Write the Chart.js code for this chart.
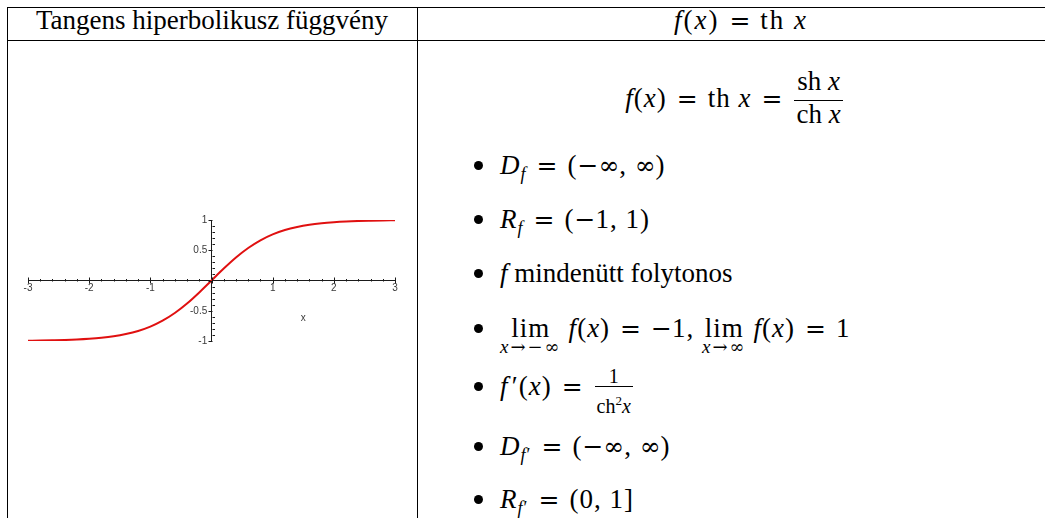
<!DOCTYPE html>
<html><head><meta charset="utf-8">
<script src="https://cdn.jsdelivr.net/npm/chart.js@4.4.1/dist/chart.umd.min.js"></script>
<style>
html,body{margin:0;padding:0;background:#fff}
body{width:1045px;height:518px;overflow:hidden;position:relative;font-family:"Liberation Serif","Times New Roman",serif;color:#000}
.hl{position:absolute;height:1px;background:#000}
.vl{position:absolute;width:1px;background:#000}
.t{position:absolute;white-space:nowrap;font-size:27px;line-height:30px}
.m{letter-spacing:1px}
.s{font-family:"DejaVu Serif",serif;font-size:25px;letter-spacing:0}
.eq{margin:0 10px}
.dot{position:absolute;width:9px;height:9px;border-radius:50%;background:#000}
sub{font-size:18px;line-height:0;vertical-align:-6px}
.lim{display:inline-flex;flex-direction:column;align-items:center;vertical-align:baseline;margin:0 7px -40px 0}
.lim .ls{font-size:19px;line-height:14px;margin-top:-3px;letter-spacing:2px}
.lim .ls .s{font-size:18px;letter-spacing:2px}
.dfr{display:inline-flex;flex-direction:column;align-items:stretch;vertical-align:17px;line-height:27px;margin:-40px 0 -40px 2px;letter-spacing:0}
.dfr span.n{border-bottom:1px solid #000;padding:0 2px 5px;text-align:center}
.dfr span.d{text-align:center;padding:0 2px}
.tfr{display:inline-flex;flex-direction:column;align-items:stretch;vertical-align:12px;font-size:20px;line-height:19px;margin:-40px 0 -40px 2px;letter-spacing:0}
.tfr span.n{border-bottom:1px solid #000;text-align:center;padding:0 2px}
.tfr span.d{text-align:center;padding:4px 2px 0}
#cv{position:absolute;left:8px;top:41px}
</style>
</head><body>
<div class="hl" style="left:7px;top:7px;width:1038px"></div>
<div class="hl" style="left:7px;top:40px;width:1038px"></div>
<div class="vl" style="left:7px;top:7px;height:511px"></div>
<div class="vl" style="left:417px;top:7px;height:511px"></div>

<div class="t" style="left:7px;width:410px;text-align:center;top:4px;line-height:33px">Tangens hiperbolikusz függvény</div>
<div class="t m" style="left:418px;width:646px;text-align:center;top:5px;letter-spacing:2px"><i>f</i>(<i>x</i>)<span class="eq s">=</span>th <i>x</i></div>

<div class="t m" style="left:418px;width:632px;text-align:center;top:83px"><i>f</i>(<i>x</i>)<span class="eq s">=</span>th <i>x</i><span class="eq s">=</span><span class="dfr"><span class="n">sh <i>x</i></span><span class="d">ch <i>x</i></span></span></div>

<div class="dot" style="left:474px;top:161px"></div>
<div class="t m" style="left:500px;top:150px"><i>D</i><sub><i>f</i></sub><span class="eq s">=</span>(<span class="s">−∞</span>, <span class="s">∞</span>)</div>
<div class="dot" style="left:474px;top:215px"></div>
<div class="t m" style="left:500px;top:204px"><i>R</i><sub><i>f</i></sub><span class="eq s">=</span>(<span class="s">−</span>1, 1)</div>
<div class="dot" style="left:474px;top:269px"></div>
<div class="t" style="left:500px;top:258px"><i>f</i> mindenütt folytonos</div>
<div class="dot" style="left:474px;top:324px"></div>
<div class="t m" style="left:500px;top:313px"><span class="lim">lim<span class="ls"><i>x</i><span class="s">→−∞</span></span></span><i>f</i>(<i>x</i>)<span class="eq s">=</span><span class="s">−</span>1, <span class="lim">lim<span class="ls"><i>x</i><span class="s">→∞</span></span></span><i>f</i>(<i>x</i>)<span class="eq s">=</span>1</div>
<div class="dot" style="left:474px;top:382px"></div>
<div class="t m" style="left:500px;top:371px"><i>f</i>&#8202;′(<i>x</i>)<span class="eq s">=</span><span class="tfr"><span class="n">1</span><span class="d">ch<sup style="font-size:13px">2</sup><i>x</i></span></span></div>
<div class="dot" style="left:474px;top:442px"></div>
<div class="t m" style="left:500px;top:431px"><i>D</i><sub><i>f</i>′</sub><span class="eq s">=</span>(<span class="s">−∞</span>, <span class="s">∞</span>)</div>
<div class="dot" style="left:474px;top:495px"></div>
<div class="t m" style="left:500px;top:484px"><i>R</i><sub><i>f</i>′</sub><span class="eq s">=</span>(0, 1]</div>

<canvas id="cv" width="408" height="477"></canvas>
<script>
// values: x and th x
const xValues = [-3, -2.8, -2.6, -2.4, -2.2, -2, -1.8, -1.6, -1.4, -1.2, -1, -0.8, -0.6, -0.4, -0.2, 0,
                 0.2, 0.4, 0.6, 0.8, 1, 1.2, 1.4, 1.6, 1.8, 2, 2.2, 2.4, 2.6, 2.8, 3];
const thValues = [-0.995, -0.993, -0.989, -0.984, -0.976, -0.964, -0.947, -0.922, -0.885, -0.834, -0.762, -0.664, -0.537, -0.38, -0.197, 0,
                  0.197, 0.38, 0.537, 0.664, 0.762, 0.834, 0.885, 0.922, 0.947, 0.964, 0.976, 0.984, 0.989, 0.993, 0.995];
const xTickValues = [-3, -2, -1, 1, 2, 3];
const xTickLabels = ['-3', '-2', '-1', '1', '2', '3'];
const yTickValues = [-1, -0.5, 0.5, 1];
const yTickLabels = ['-1', '-0.5', '0.5', '1'];
const xAxisTitle = 'x';

const AXIS = '#1a1a1a';
const LABEL = '#3a3a3a';
const tickFont = {family: '"Liberation Sans", Arial, sans-serif', size: 10};

const minorTicks = {
  id: 'minorTicks',
  afterDatasetsDraw(chart) {
    const {ctx, scales: {x, y}} = chart;
    const ax = Math.round(y.getPixelForValue(0)) + 0.5;
    const ay = Math.round(x.getPixelForValue(0)) + 0.5;
    ctx.save();
    ctx.strokeStyle = AXIS;
    ctx.lineWidth = 1;
    ctx.beginPath();
    for (let i = -15; i <= 15; i++) {
      const px = Math.round(x.getPixelForValue(i / 5)) + 0.5;
      const major = i % 5 === 0;
      ctx.moveTo(px, ax - (major ? 4 : 2.5));
      ctx.lineTo(px, ax + (major ? 2 : 0));
    }
    for (let i = -10; i <= 10; i++) {
      const py = Math.round(y.getPixelForValue(i / 10)) + 0.5;
      const major = i % 5 === 0;
      if (major) { ctx.moveTo(ay - 4, py); ctx.lineTo(ay, py); }
      else { ctx.moveTo(ay, py); ctx.lineTo(ay + 2.5, py); }
    }
    ctx.stroke();
    ctx.restore();
  }
};

new Chart(document.getElementById('cv'), {
  type: 'scatter',
  data: {
    datasets: [{
      data: xValues.map((v, i) => ({x: v, y: thValues[i]})),
      showLine: true,
      borderColor: '#e01010',
      borderWidth: 2,
      pointRadius: 0,
      cubicInterpolationMode: 'monotone',
      fill: false
    }]
  },
  options: {
    responsive: false,
    animation: false,
    devicePixelRatio: 1,
    layout: {padding: {left: 20, right: 21, top: 179, bottom: 177}},
    plugins: {legend: {display: false}, tooltip: {enabled: false}},
    scales: {
      x: {
        type: 'linear', min: -3, max: 3, position: {y: 0},
        afterBuildTicks: s => { s.ticks = xTickValues.map(v => ({value: v})); },
        ticks: {callback: (v, i) => xTickLabels[i], font: tickFont, color: LABEL, padding: 2, maxRotation: 0, autoSkip: false},
        grid: {display: true, drawOnChartArea: false, drawTicks: false},
        border: {display: true, color: AXIS, width: 1}
      },
      y: {
        type: 'linear', min: -1, max: 1, position: {x: 0},
        ticks: {display: false},
        grid: {display: true, drawOnChartArea: false, drawTicks: false},
        border: {display: true, color: AXIS, width: 1}
      },
      yl: {
        type: 'linear', axis: 'y', min: -1, max: 1, position: {x: -0.07},
        afterBuildTicks: s => { s.ticks = yTickValues.map(v => ({value: v})); },
        ticks: {callback: (v, i) => yTickLabels[i], font: tickFont, color: LABEL, padding: 0, autoSkip: false},
        grid: {display: false, drawTicks: false},
        border: {display: false}
      },
      xt: {
        type: 'linear', axis: 'x', min: -3, max: 3, position: {y: -0.5},
        afterBuildTicks: s => { s.ticks = [{value: 1.5}]; },
        ticks: {callback: () => xAxisTitle, font: tickFont, color: LABEL, padding: 1, maxRotation: 0, autoSkip: false},
        grid: {display: false, drawTicks: false},
        border: {display: false}
      }
    }
  },
  plugins: [minorTicks]
});
</script>
</body></html>
